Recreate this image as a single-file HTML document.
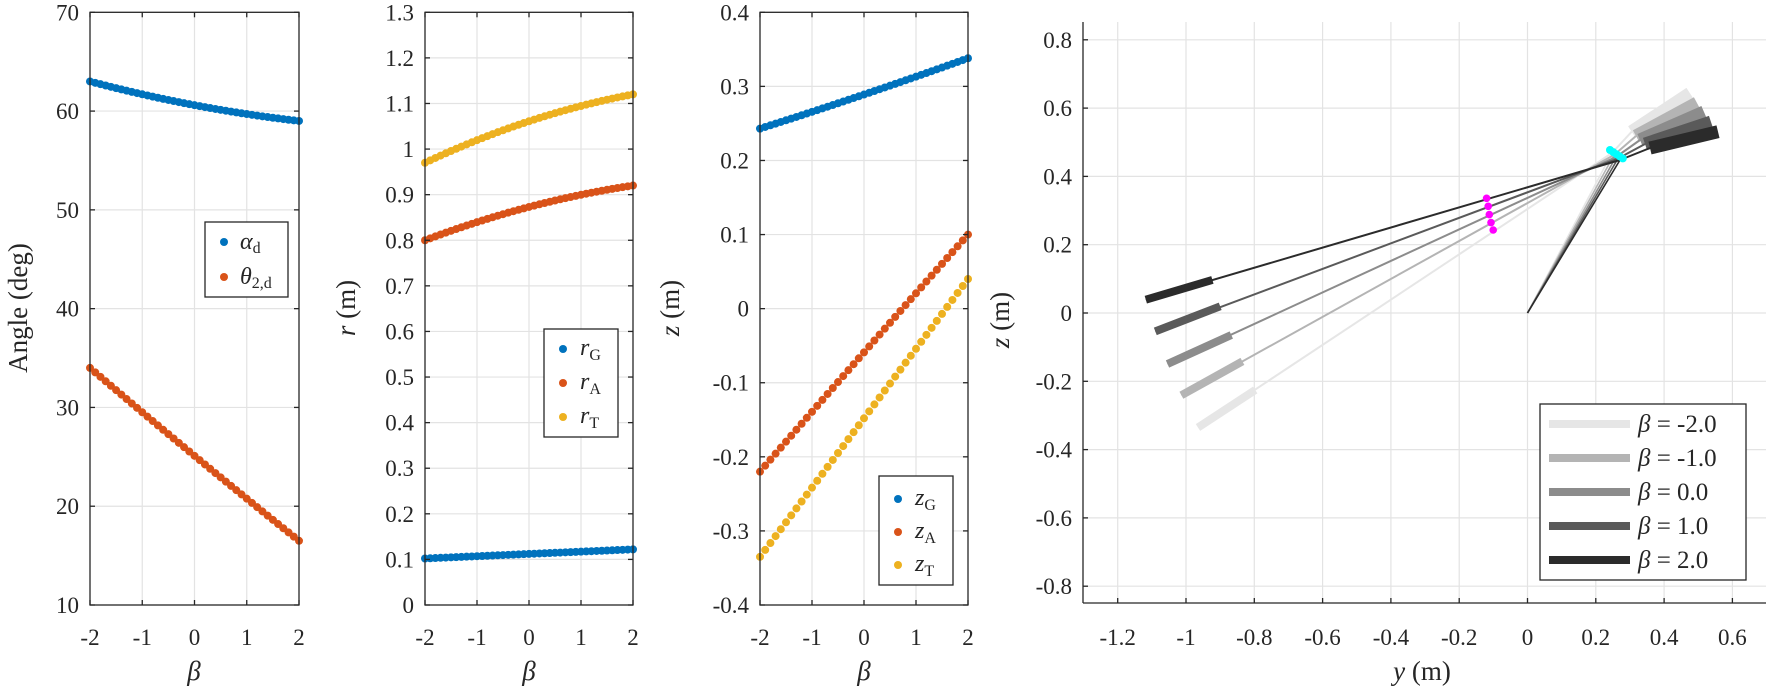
<!DOCTYPE html>
<html><head><meta charset="utf-8"><style>
html,body{margin:0;padding:0;background:#fff;}
svg{display:block;}
svg text{font-family:"Liberation Serif","DejaVu Serif",serif;fill:#262626;}
</style></head><body>
<svg id="s" width="1770" height="691" viewBox="0 0 1770 691" xmlns="http://www.w3.org/2000/svg" font-family="Liberation Serif, serif">
<rect width="1770" height="691" fill="#fff"/>
<g id="grid"></g>
<g id="data"></g>
<g id="axes" fill="none" stroke="#262626" stroke-width="1.3"></g>
<g id="labels" font-size="23" font-family="Liberation Serif, serif"></g>

<text x="0" y="0" font-size="27" text-anchor="middle" transform="translate(27,308) rotate(-90)">Angle (deg)</text>
<text x="0" y="0" font-size="27" text-anchor="middle" transform="translate(355,308) rotate(-90)"><tspan font-style="italic">r</tspan> (m)</text>
<text x="0" y="0" font-size="27" text-anchor="middle" transform="translate(679,308) rotate(-90)"><tspan font-style="italic">z</tspan> (m)</text>
<text x="0" y="0" font-size="27" text-anchor="middle" transform="translate(1009,320) rotate(-90)"><tspan font-style="italic">z</tspan> (m)</text>
<text x="194" y="680" font-size="27" font-style="italic" text-anchor="middle">β</text>
<text x="529" y="680" font-size="27" font-style="italic" text-anchor="middle">β</text>
<text x="864" y="680" font-size="27" font-style="italic" text-anchor="middle">β</text>
<text x="1422" y="680" font-size="27" text-anchor="middle"><tspan font-style="italic">y</tspan> (m)</text>

<g>
<rect x="205" y="222" width="83" height="75" fill="#fff" stroke="#262626" stroke-width="1.3"/>
<circle cx="224" cy="242" r="4" fill="#0072BD"/>
<circle cx="224" cy="277" r="4" fill="#D95319"/>
<text x="240" y="249" font-size="24"><tspan font-style="italic">α</tspan><tspan font-size="16" dy="4">d</tspan></text>
<text x="240" y="284" font-size="24"><tspan font-style="italic">θ</tspan><tspan font-size="16" dy="4">2,d</tspan></text>

<rect x="544" y="329" width="74" height="108" fill="#fff" stroke="#262626" stroke-width="1.3"/>
<circle cx="563" cy="349" r="4" fill="#0072BD"/>
<circle cx="563" cy="383" r="4" fill="#D95319"/>
<circle cx="563" cy="417" r="4" fill="#EDB120"/>
<text x="580" y="355" font-size="24"><tspan font-style="italic">r</tspan><tspan font-size="16" dy="5">G</tspan></text>
<text x="580" y="389" font-size="24"><tspan font-style="italic">r</tspan><tspan font-size="16" dy="5">A</tspan></text>
<text x="580" y="423" font-size="24"><tspan font-style="italic">r</tspan><tspan font-size="16" dy="5">T</tspan></text>

<rect x="879" y="476" width="74" height="109" fill="#fff" stroke="#262626" stroke-width="1.3"/>
<circle cx="898" cy="499" r="4" fill="#0072BD"/>
<circle cx="898" cy="532" r="4" fill="#D95319"/>
<circle cx="898" cy="565" r="4" fill="#EDB120"/>
<text x="915" y="505" font-size="24"><tspan font-style="italic">z</tspan><tspan font-size="16" dy="5">G</tspan></text>
<text x="915" y="538" font-size="24"><tspan font-style="italic">z</tspan><tspan font-size="16" dy="5">A</tspan></text>
<text x="915" y="571" font-size="24"><tspan font-style="italic">z</tspan><tspan font-size="16" dy="5">T</tspan></text>

<rect x="1540" y="404" width="206" height="176" fill="#fff" stroke="#262626" stroke-width="1.3"/>
<line x1="1549" y1="424" x2="1630" y2="424" stroke="#e6e6e6" stroke-width="8"/>
<line x1="1549" y1="458" x2="1630" y2="458" stroke="#b4b4b4" stroke-width="8"/>
<line x1="1549" y1="492" x2="1630" y2="492" stroke="#8c8c8c" stroke-width="8"/>
<line x1="1549" y1="526" x2="1630" y2="526" stroke="#5a5a5a" stroke-width="8"/>
<line x1="1549" y1="560" x2="1630" y2="560" stroke="#2b2b2b" stroke-width="8"/>
<text x="1638" y="432" font-size="25"><tspan font-style="italic">β</tspan> = -2.0</text>
<text x="1638" y="466" font-size="25"><tspan font-style="italic">β</tspan> = -1.0</text>
<text x="1638" y="500" font-size="25"><tspan font-style="italic">β</tspan> = 0.0</text>
<text x="1638" y="534" font-size="25"><tspan font-style="italic">β</tspan> = 1.0</text>
<text x="1638" y="568" font-size="25"><tspan font-style="italic">β</tspan> = 2.0</text>
</g>
</svg>
<script>
(function(){
var NS="http://www.w3.org/2000/svg";
function el(p,t,a){var e=document.createElementNS(NS,t);for(var k in a)e.setAttribute(k,a[k]);p.appendChild(e);return e;}
var G=document.getElementById('grid'),D=document.getElementById('data'),A=document.getElementById('axes'),L=document.getElementById('labels');
var TOP=12.3,BOT=605;
function txt(x,y,s,anchor){var t=el(L,'text',{x:x,y:y,'text-anchor':anchor,'font-family':'Liberation Serif, serif'});t.textContent=s;}
function panel(x0,x1,ymin,ymax,ystep,fmt,series){
  var ys=function(v){return BOT-(v-ymin)/(ymax-ymin)*(BOT-TOP);};
  var xs=function(b){return x0+(b+2)/4*(x1-x0);};
  for(var b=-2;b<=2;b++){var X=xs(b);
    if(b>-2&&b<2)el(G,'line',{x1:X,y1:TOP,x2:X,y2:BOT,stroke:'#e3e3e3','stroke-width':1.2});
    el(A,'line',{x1:X,y1:BOT,x2:X,y2:BOT-5});el(A,'line',{x1:X,y1:TOP,x2:X,y2:TOP+5});
    txt(X,645,String(b),'middle');}
  var n=Math.round((ymax-ymin)/ystep);
  for(var i=0;i<=n;i++){var v=ymin+i*ystep,Y=ys(v);
    if(i>0&&i<n)el(G,'line',{x1:x0,y1:Y,x2:x1,y2:Y,stroke:'#e3e3e3','stroke-width':1.2});
    el(A,'line',{x1:x0,y1:Y,x2:x0+5,y2:Y});el(A,'line',{x1:x1,y1:Y,x2:x1-5,y2:Y});
    txt(x0-11,Y+8,fmt(v),'end');}
  el(A,'rect',{x:x0,y:TOP,width:x1-x0,height:BOT-TOP});
  series.forEach(function(s){for(var k=0;k<=40;k++){var b=-2+k*0.1;el(D,'circle',{cx:xs(b),cy:ys(s.f(b)),r:4,fill:s.c});}});
}
var B='#0072BD',R='#D95319',Yc='#EDB120';
function q(a,m,c){var l=(c-a)/4,d=(a+c-2*m)/8;return function(b){return m+l*b+d*b*b;};}
function f1(v){return String(Math.round(v));}
function fr(v){v=Math.round(v*10)/10;return v===0?'0':(v===1?'1':v.toFixed(1));}
function fz(v){v=Math.round(v*10)/10;return v===0?'0':v.toFixed(1);}
panel(90,299,10,70,10,f1,[{f:q(63,60.6,59),c:B},{f:q(34,25.1,16.5),c:R}]);
panel(425,633,0,1.3,0.1,fr,[{f:q(0.102,0.112,0.122),c:B},{f:q(0.8,0.873,0.92),c:R},{f:q(0.97,1.061,1.12),c:Yc}]);
panel(760,968,-0.4,0.4,0.1,fz,[{f:q(0.243,0.289,0.338),c:B},{f:q(-0.22,-0.059,0.1),c:R},{f:q(-0.335,-0.148,0.04),c:Yc}]);

var px0=1083,px1=1766,ox=1527.5,oy=313,u=341.5,T4=22,B4=603;
for(var i=-6;i<=3;i++){var X=ox+i*0.2*u;
  el(G,'line',{x1:X,y1:T4,x2:X,y2:B4,stroke:'#e3e3e3','stroke-width':1.2});
  el(A,'line',{x1:X,y1:B4,x2:X,y2:B4-5});
  var v=Math.round(i*2)/10;txt(X,645,v===0?'0':(Math.abs(v)===1?(v<0?'-1':'1'):v.toFixed(1)),'middle');}
for(var j=-4;j<=4;j++){var Y=oy-j*0.2*u;
  el(G,'line',{x1:px0,y1:Y,x2:px1,y2:Y,stroke:'#e3e3e3','stroke-width':1.2});
  el(A,'line',{x1:px0,y1:Y,x2:px0+5,y2:Y});
  var w=Math.round(j*2)/10;txt(1072,Y+8,w===0?'0':w.toFixed(1),'end');}
el(A,'line',{x1:px0,y1:T4,x2:px0,y2:B4});el(A,'line',{x1:px0,y1:B4,x2:px1,y2:B4});
var cols=['#e6e6e6','#b4b4b4','#8c8c8c','#5a5a5a','#2b2b2b'];
var endP=[[1198,427.5],[1181.4,395.3],[1167.5,364],[1155.3,331.4],[1145.8,299.7]];
var thS=[[1255.2,390],[1242.4,361.4],[1231.3,335],[1220.2,306.3],[1212.4,279.9]];
var hub=[[1612,153],[1614,155],[1616,157],[1618,158.5],[1620,160]];
var mag=[[1493.2,230],[1491,222.6],[1489.3,214.6],[1488.2,206.3],[1486.6,198.3]];
var ua=[[[1631.7,131.7],[1690,93.3]],[[1636,136],[1697,103]],[[1640,140],[1704,112]],[[1645,144],[1711,122]],[[1650,148],[1718,131.7]]];
for(var k=0;k<5;k++){var h=hub[k];el(D,'line',{x1:ox,y1:oy,x2:h[0],y2:h[1],stroke:cols[k],'stroke-width':1.6});}
for(var k=0;k<5;k++){
  var c=cols[k],h=hub[k];
  el(D,'line',{x1:endP[k][0],y1:endP[k][1],x2:h[0],y2:h[1],stroke:c,'stroke-width':2});
  el(D,'line',{x1:endP[k][0],y1:endP[k][1],x2:thS[k][0],y2:thS[k][1],stroke:c,'stroke-width':8});
  el(D,'line',{x1:h[0],y1:h[1],x2:ua[k][0][0],y2:ua[k][0][1],stroke:c,'stroke-width':2});
  el(D,'line',{x1:ua[k][0][0],y1:ua[k][0][1],x2:ua[k][1][0],y2:ua[k][1][1],stroke:c,'stroke-width':13});
}
for(var k=0;k<5;k++){el(D,'circle',{cx:mag[k][0],cy:mag[k][1],r:3.8,fill:'#ff00ff'});el(D,'circle',{cx:1610+k*3.2,cy:150+k*2.1,r:4,fill:'#00ffff'});}
})();
</script>
</body></html>
